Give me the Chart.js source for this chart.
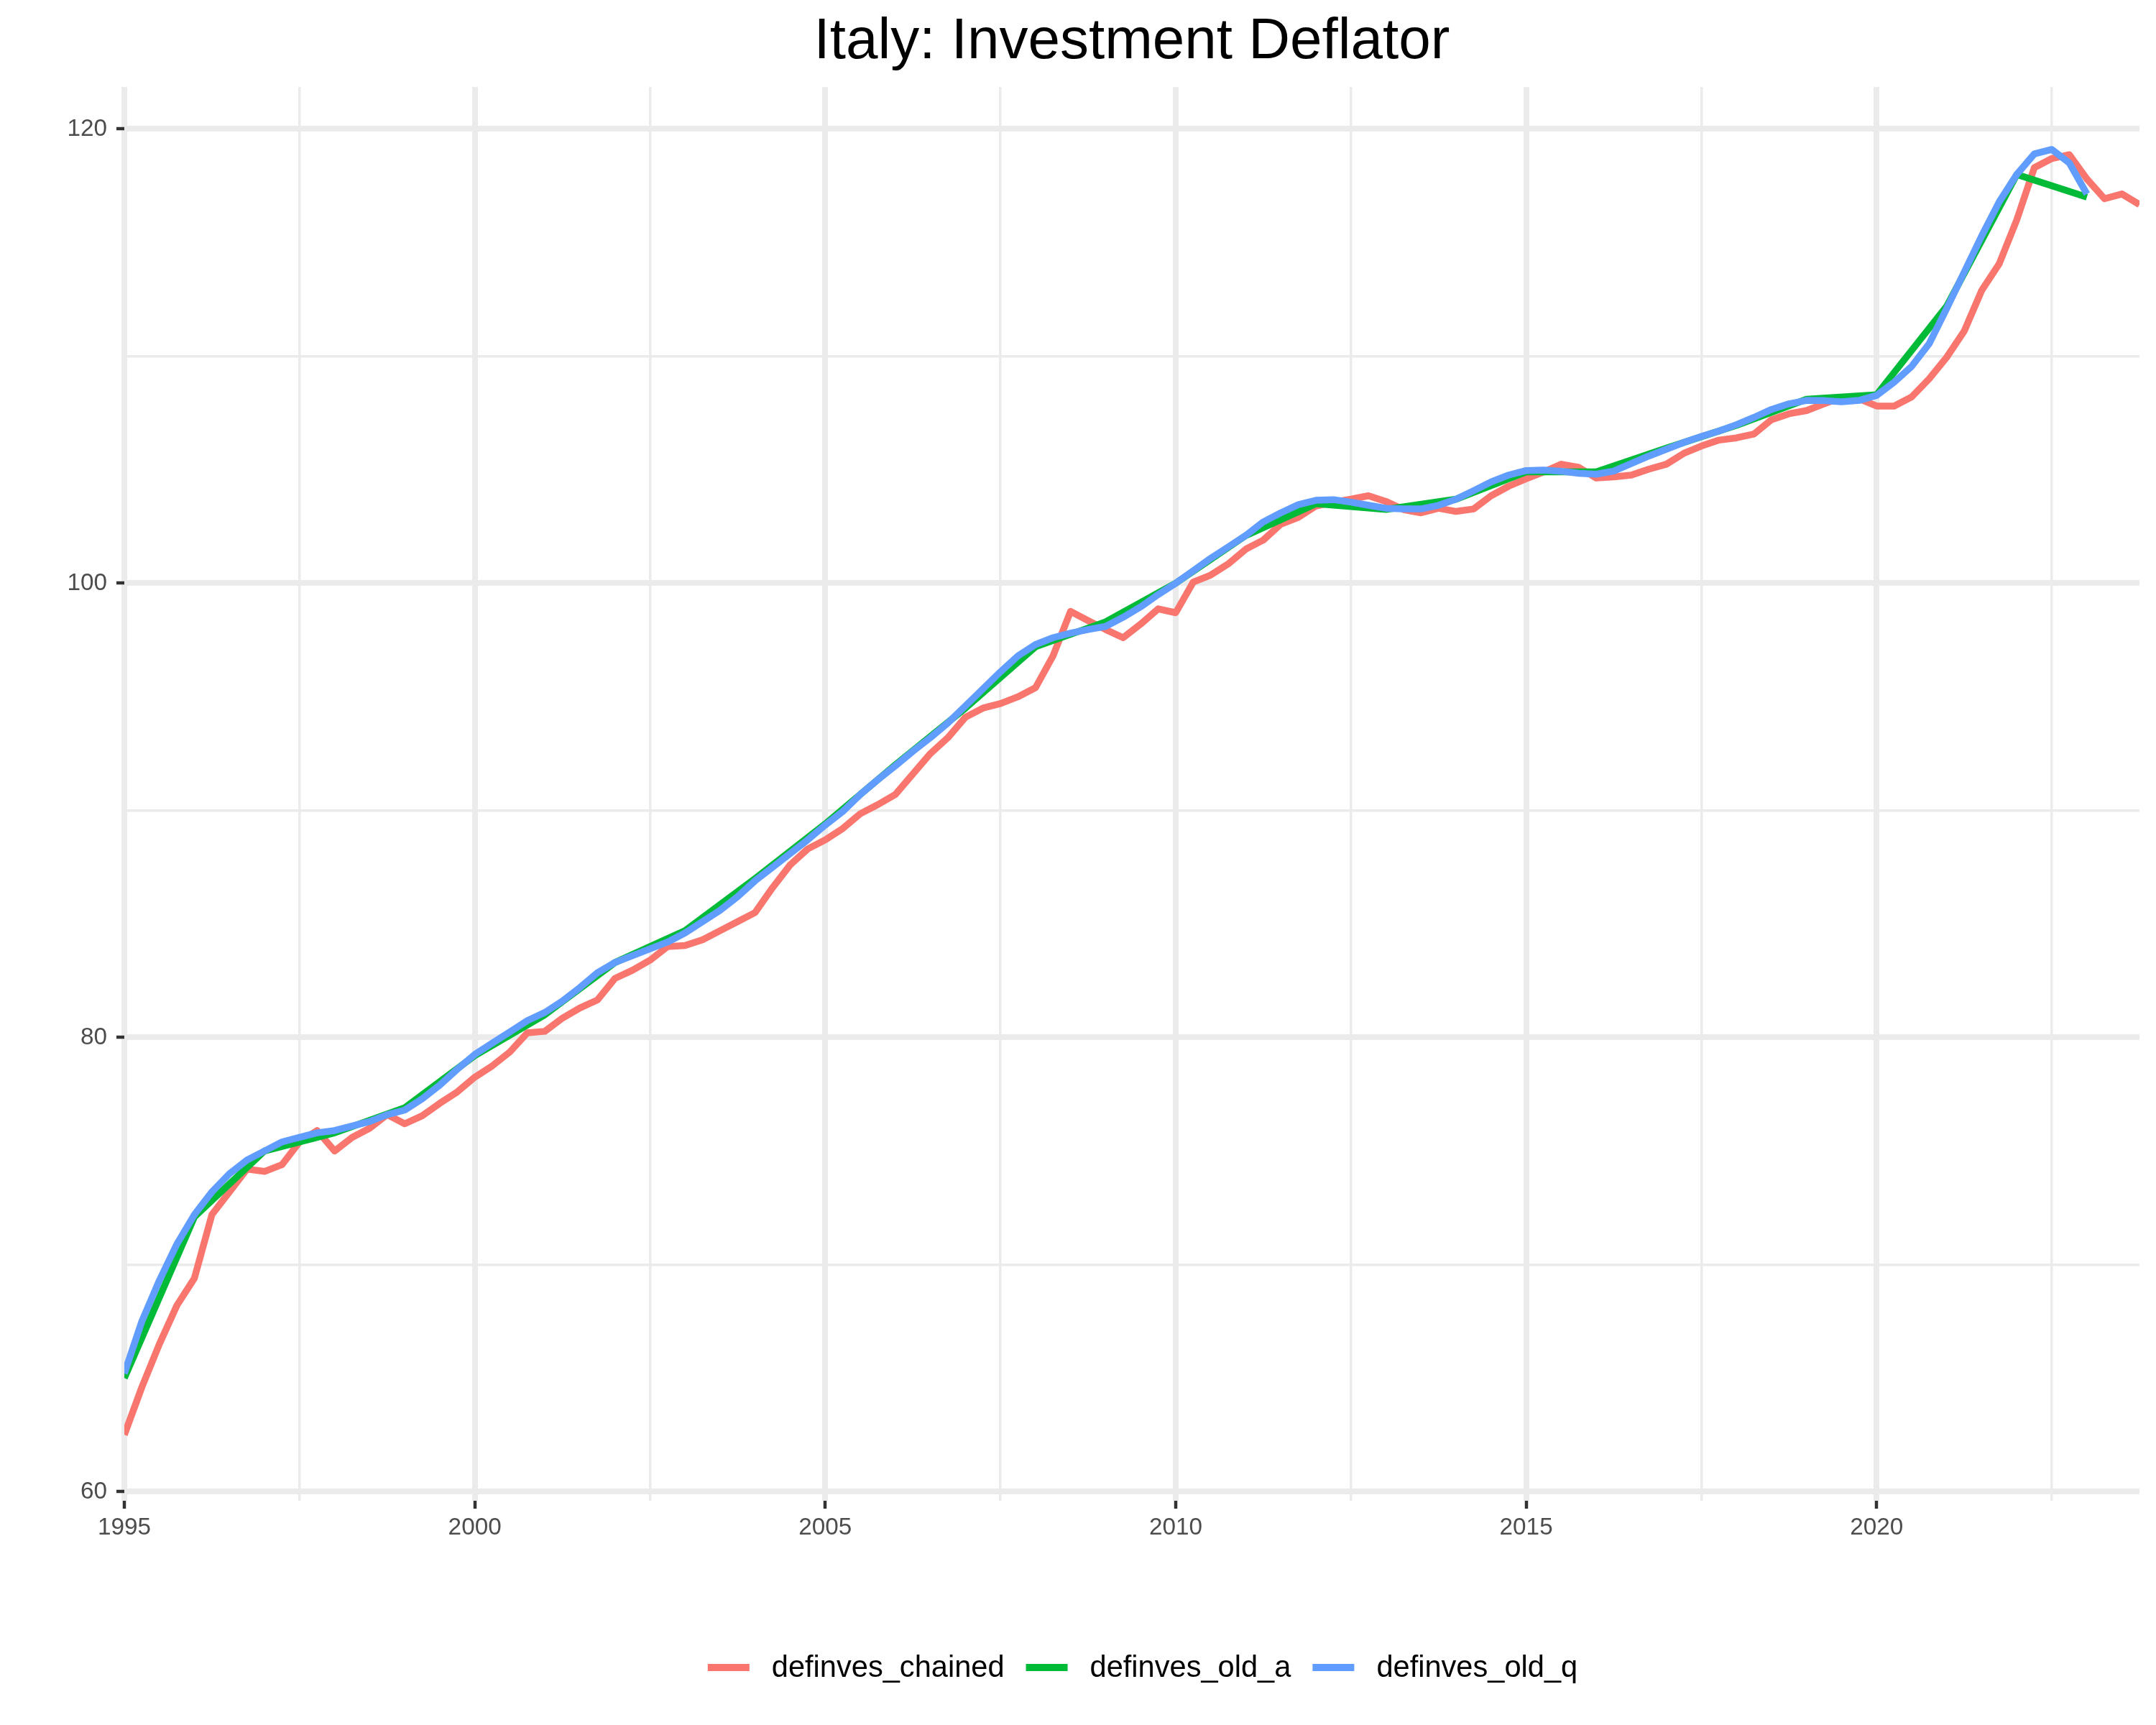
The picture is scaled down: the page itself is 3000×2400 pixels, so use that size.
<!DOCTYPE html>
<html>
<head>
<meta charset="utf-8">
<title>Italy: Investment Deflator</title>
<script src="https://cdn.jsdelivr.net/npm/chart.js@4"></script>
<style>
  html, body { margin: 0; padding: 0; background: #ffffff; }
  canvas { display: block; }
</style>
</head>
<body>
<canvas id="deflatorChart" width="3000" height="2400" style="width:3000px;height:2400px"></canvas>
<script>
// --- data ---
const seriesNames = ['definves_chained', 'definves_old_a', 'definves_old_q'];
const seriesColors = ['#F8766D', '#00BA38', '#619CFF'];

// quarterly, 1995Q1 .. 2023Q4
const chainedStart = 1995;
const definvesChained = [
  62.5, 64.6, 66.5, 68.2,
  69.4, 72.2, 73.2, 74.2,
  74.1, 74.4, 75.4, 75.9,
  75.0, 75.6, 76.0, 76.6,
  76.2, 76.55, 77.1, 77.6,
  78.25, 78.75, 79.36, 80.2,
  80.27, 80.85, 81.3, 81.65,
  82.6, 82.96, 83.4, 84.0,
  84.05, 84.3, 84.7, 85.1,
  85.5, 86.6, 87.6, 88.3,
  88.7, 89.2, 89.85, 90.25,
  90.7, 91.6, 92.5, 93.2,
  94.1, 94.5, 94.7, 95.0,
  95.4, 96.8, 98.76, 98.35,
  97.96, 97.6, 98.2, 98.87,
  98.7, 100.05, 100.36, 100.85,
  101.5, 101.9, 102.6, 102.9,
  103.4, 103.57, 103.7, 103.85,
  103.6, 103.24, 103.1, 103.3,
  103.16, 103.27, 103.85, 104.27,
  104.6, 104.9, 105.24, 105.1,
  104.63, 104.68, 104.76, 105.02,
  105.24, 105.72, 106.04, 106.3,
  106.4, 106.57, 107.2, 107.46,
  107.6, 107.9, 108.18, 108.12,
  107.8, 107.8, 108.2, 109.0,
  109.95, 111.1, 112.9, 114.07,
  116.0, 118.3, 118.7, 118.87,
  117.8, 116.93, 117.14, 116.67
];

// annual, 1995 .. 2023
const oldAYears = [1995, 1996, 1997, 1998, 1999, 2000, 2001, 2002, 2003, 2004,
  2005, 2006, 2007, 2008, 2009, 2010, 2011, 2012, 2013, 2014,
  2015, 2016, 2017, 2018, 2019, 2020, 2021, 2022, 2023];
const definvesOldA = [65.0, 72.1, 75.0, 75.8, 76.9, 79.2, 81.0, 83.3, 84.7, 87.0,
  89.4, 92.0, 94.5, 97.2, 98.3, 100.0, 102.1, 103.5, 103.25, 103.7,
  104.9, 104.9, 105.95, 106.95, 108.1, 108.3, 112.2, 118.0, 117.0];

// quarterly, 1995Q1 .. 2023Q1
const oldQStart = 1995;
const definvesOldQ = [
  65.2, 67.5, 69.3, 70.9,
  72.2, 73.2, 74.0, 74.6,
  75.0, 75.4, 75.6, 75.8,
  75.9, 76.1, 76.3, 76.6,
  76.8, 77.3, 77.9, 78.6,
  79.25, 79.75, 80.24, 80.74,
  81.1, 81.6, 82.2, 82.85,
  83.3, 83.6, 83.9, 84.2,
  84.6, 85.1, 85.6, 86.2,
  86.9, 87.5, 88.1, 88.7,
  89.35, 89.95, 90.7, 91.35,
  91.96, 92.6, 93.2, 93.85,
  94.6, 95.35, 96.1, 96.8,
  97.3, 97.6, 97.8, 97.96,
  98.1, 98.5, 98.96, 99.5,
  100.0, 100.55, 101.1, 101.6,
  102.1, 102.7, 103.1, 103.46,
  103.65, 103.68, 103.57, 103.43,
  103.3, 103.27, 103.27, 103.43,
  103.7, 104.07, 104.46, 104.76,
  104.96, 104.98, 104.93, 104.84,
  104.8, 104.94, 105.27, 105.6,
  105.9, 106.2, 106.46, 106.7,
  106.98, 107.3, 107.65, 107.9,
  108.05, 108.04, 107.99, 108.05,
  108.27, 108.85, 109.55, 110.55,
  112.1, 113.7, 115.3, 116.8,
  118.0, 118.9, 119.1, 118.5,
  117.14
];

const xTickLabels = [1995, 2000, 2005, 2010, 2015, 2020];
const yTickLabels = [60, 80, 100, 120];

// --- build points ---
const quarterly = (start, values) => values.map((v, i) => ({ x: start + i / 4, y: v }));
const chainedPoints = quarterly(chainedStart, definvesChained);
const oldQPoints = quarterly(oldQStart, definvesOldQ);
const oldAPoints = oldAYears.map((yr, i) => ({ x: yr, y: definvesOldA[i] }));

const FONT = '"Liberation Sans", Arial, Helvetica, sans-serif';
const GRID = '#EBEBEB';

function lineDataset(i, data, order) {
  return {
    label: seriesNames[i],
    data: data,
    borderColor: seriesColors[i],
    backgroundColor: seriesColors[i],
    borderWidth: 9.5,
    borderJoinStyle: 'round',
    borderCapStyle: 'butt',
    pointRadius: 0,
    pointHoverRadius: 0,
    tension: 0,
    fill: false,
    order: order
  };
}

// title + legend drawn by hand so they sit where ggplot put them
const ggDecor = {
  id: 'ggDecor',
  afterDraw(chart) {
    const c = chart.ctx;
    const area = chart.chartArea;
    c.save();
    c.fillStyle = '#000000';
    c.font = '80px ' + FONT;
    c.textAlign = 'center';
    c.textBaseline = 'alphabetic';
    c.fillText('Italy: Investment Deflator', (area.left + area.right) / 2, 81);

    // legend
    c.font = '41.6px ' + FONT;
    const keyW = 58, keyGap = 31, itemGap = 30;
    const widths = seriesNames.map(n => c.measureText(n).width);
    let total = 0;
    widths.forEach((w, i) => { total += keyW + keyGap + w + (i ? itemGap : 0); });
    let x = 1590 - total / 2;
    const yc = 2320;
    c.textAlign = 'left';
    c.textBaseline = 'middle';
    seriesNames.forEach((n, i) => {
      c.fillStyle = seriesColors[i];
      c.fillRect(x, yc - 5, keyW, 10);
      x += keyW + keyGap;
      c.fillStyle = '#000000';
      c.fillText(n, x, yc + 2);
      x += widths[i] + itemGap;
    });
    c.restore();
  }
};

new Chart(document.getElementById('deflatorChart').getContext('2d'), {
  type: 'line',
  data: {
    datasets: [
      lineDataset(0, chainedPoints, 3),
      lineDataset(1, oldAPoints, 2),
      lineDataset(2, oldQPoints, 1)
    ]
  },
  options: {
    responsive: false,
    devicePixelRatio: 1,
    animation: false,
    parsing: true,
    layout: { padding: { top: 121, right: 23, bottom: 242, left: 0 } },
    plugins: {
      legend: { display: false },
      title: { display: false },
      tooltip: { enabled: false }
    },
    scales: {
      x: {
        type: 'linear',
        min: 1995,
        max: 2023.75,
        border: { display: false },
        grid: {
          color: GRID,
          lineWidth: ctx => (ctx.tick && ctx.tick.value % 5 === 0) ? 8 : 3.5,
          drawTicks: true,
          tickLength: 11,
          tickWidth: 4.5,
          tickColor: ctx => (ctx.tick && xTickLabels.includes(ctx.tick.value)) ? '#333333' : 'rgba(0,0,0,0)'
        },
        ticks: {
          stepSize: 2.5,
          includeBounds: false,
          autoSkip: false,
          maxRotation: 0,
          padding: 7,
          color: '#4D4D4D',
          font: { family: FONT, size: 33.3 },
          callback: v => xTickLabels.includes(v) ? String(v) : ''
        },
        afterFit: scale => { scale.height = 70; }
      },
      y: {
        type: 'linear',
        min: 59.6,
        max: 121.85,
        border: { display: false },
        grid: {
          color: GRID,
          lineWidth: ctx => (ctx.tick && ctx.tick.value % 20 === 0) ? 8 : 3.5,
          drawTicks: true,
          tickLength: 11,
          tickWidth: 4.5,
          tickColor: ctx => (ctx.tick && yTickLabels.includes(ctx.tick.value)) ? '#333333' : 'rgba(0,0,0,0)'
        },
        ticks: {
          stepSize: 10,
          includeBounds: false,
          autoSkip: false,
          padding: 13,
          color: '#4D4D4D',
          font: { family: FONT, size: 33.3 },
          callback: v => yTickLabels.includes(v) ? String(v) : ''
        },
        afterFit: scale => { scale.width = 173; }
      }
    }
  },
  plugins: [ggDecor]
});
</script>
</body>
</html>
